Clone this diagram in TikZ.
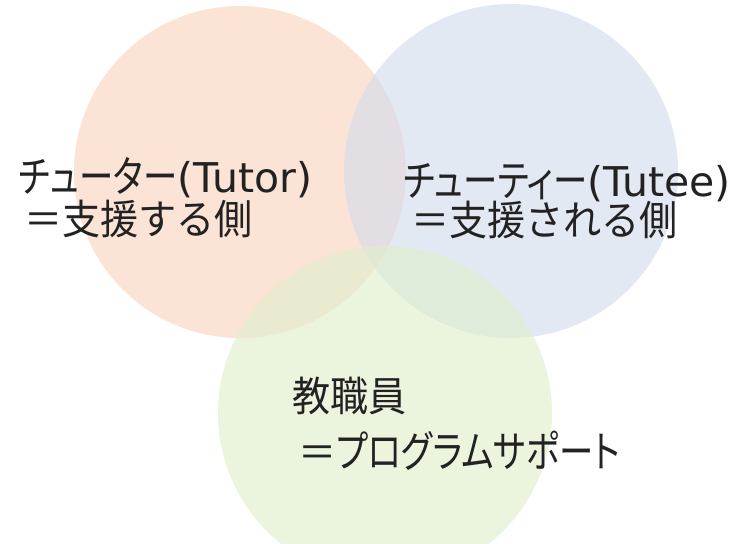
\documentclass[tikz,border=0pt]{standalone}
\usepackage{fontspec}
\setmainfont[FakeStretch=0.93]{Noto Sans CJK JP}
\newfontfamily\pkfont[RawFeature=+palt,FakeStretch=0.8]{Noto Sans CJK JP}
\newcommand{\pk}[1]{{\pkfont\fontsize{43}{50}\selectfont #1}}
\newfontfamily\lat{DejaVu Sans}
\newcommand{\lt}[1]{{\lat\fontsize{41}{50}\selectfont #1}}
\definecolor{orangefill}{RGB}{250,211,189}
\definecolor{bluefill}{RGB}{211,220,236}
\definecolor{greenfill}{RGB}{223,239,203}
\definecolor{txt}{RGB}{34,34,34}
\tikzset{
  venn/.style={fill opacity=0.62, draw=none},
  label/.style={anchor=base west, inner sep=0pt, text=txt,
    font=\fontsize{41}{48}\selectfont}
}
\begin{document}
\begin{tikzpicture}[x=1pt,y=-1pt]
\useasboundingbox (0,0) rectangle (743,543);
\fill[white] (0,0) rectangle (743,543);
\fill[venn, orangefill] (240,172) circle[radius=166];
\fill[venn, bluefill] (511,171) circle[radius=167];
\fill[venn, greenfill] (385,413) circle[radius=167];
\node[label] (tutor1) at (19,192) {\pk{チューター}\lt{(Tutor)}};
\node[label] (tutor2) at (24,234) {＝支援する側};
\node[label] (tutee1) at (403,196) {\pk{チューティー}\lt{(Tutee)}};
\node[label] (tutee2) at (411,235) {＝支援される側};
\node[label] (staff1) at (292,411) {教職員};
\node[label] (staff2) at (298,467) {＝\pk{プログラムサポート}};
\end{tikzpicture}
\end{document}
